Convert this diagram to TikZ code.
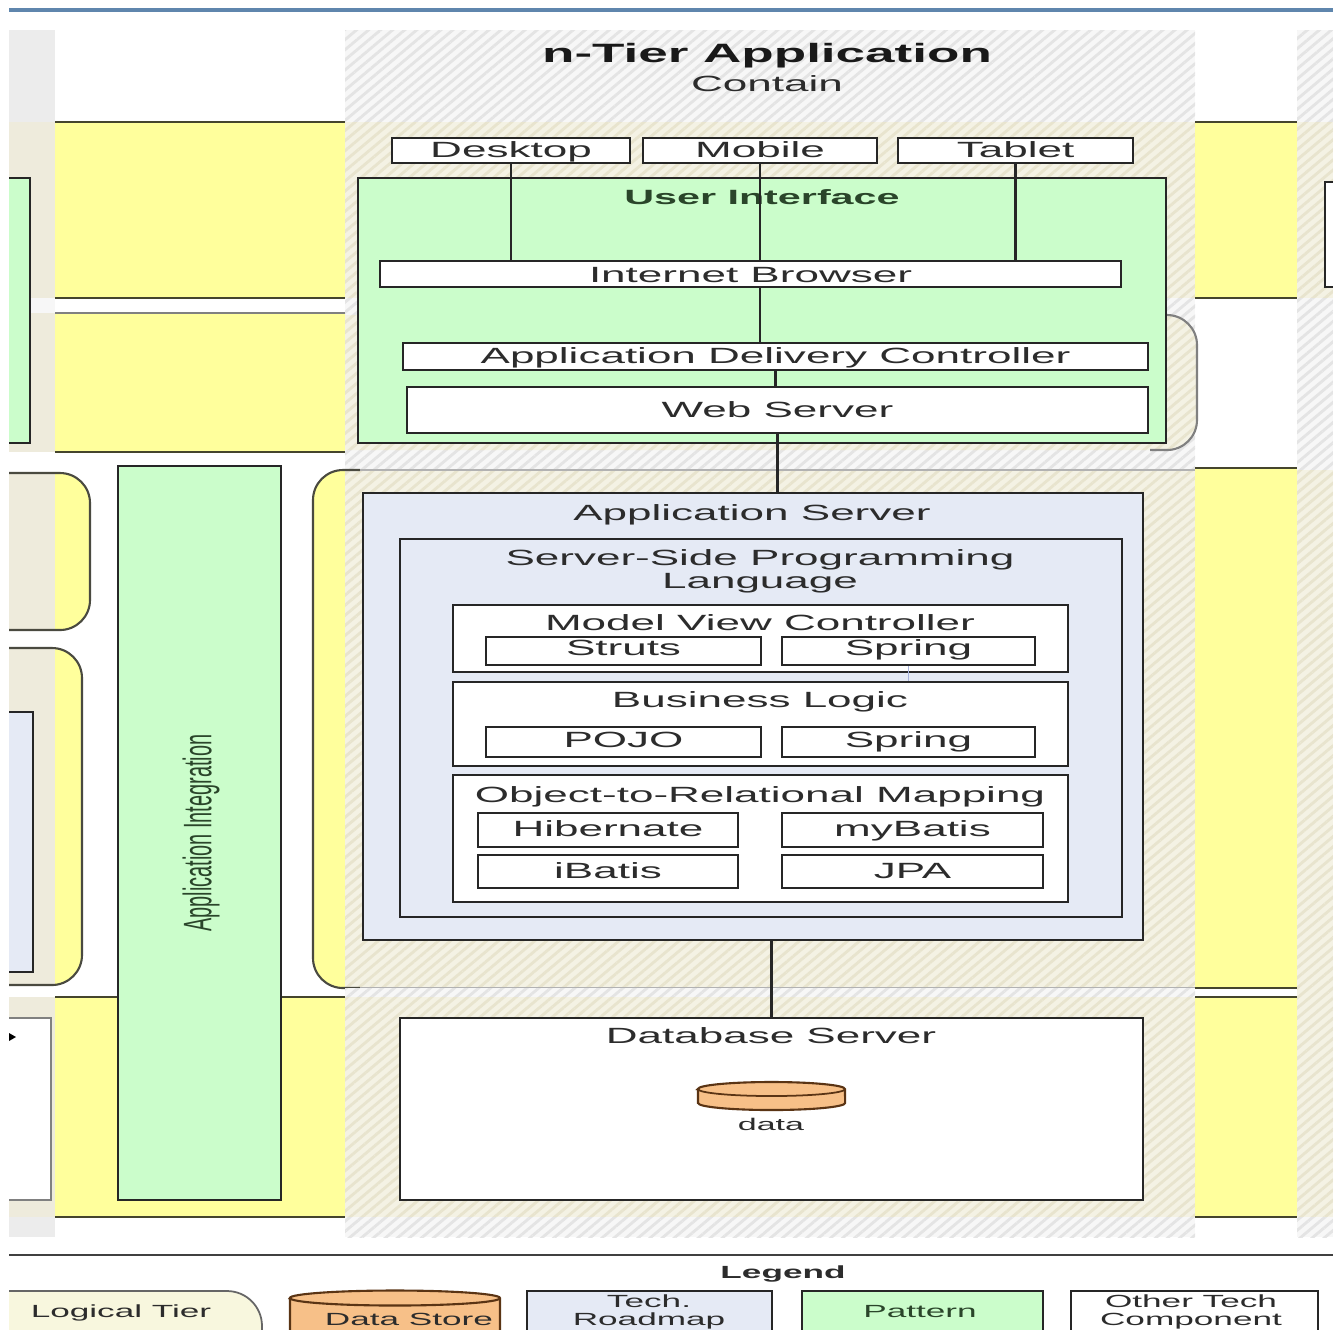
\documentclass[tikz,border=0pt]{standalone}
\usepackage{fontspec}
\setmainfont{Liberation Sans}[FakeStretch=2.0]
\newfontfamily\plainsans{Liberation Sans}
\usetikzlibrary{fit,patterns.meta}
\definecolor{lineC}{HTML}{262626}
\definecolor{txt}{HTML}{2C2C2C}
\definecolor{gtxt}{HTML}{2A452A}
\definecolor{yel}{HTML}{FFFF9C}
\definecolor{yline}{HTML}{45452D}
\definecolor{grn}{HTML}{CBFDCB}
\definecolor{blueg}{HTML}{E5EAF5}
\definecolor{orng}{HTML}{F7C088}
\definecolor{brn}{HTML}{5A3414}
\definecolor{beigeP}{HTML}{EEEBDC}
\definecolor{beigeB}{HTML}{F4F2E4}
\definecolor{beigeS}{HTML}{E8E4CE}
\definecolor{greyB}{HTML}{F7F7F7}
\definecolor{greyS}{HTML}{E4E4E4}
\definecolor{lgrey}{HTML}{ECECEC}
\definecolor{topblue}{HTML}{5F86AD}
\definecolor{tierline}{HTML}{4A4A40}
\definecolor{ltfill}{HTML}{F8F7DE}
\definecolor{faintc}{HTML}{A8B4DC}
\newcommand\bodyfont{\fontsize{6.26pt}{7.5pt}\selectfont}
\newcommand\legfont{\fontsize{5pt}{6pt}\selectfont}
\begin{document}
\begin{tikzpicture}[x=0.01cm,y=-0.01cm,
  hb/.style={fill=beigeB, postaction={pattern={Lines[angle=40,distance=2.2pt,line width=0.8pt]}, pattern color=beigeS}},
  hg/.style={fill=greyB, postaction={pattern={Lines[angle=40,distance=2.2pt,line width=0.8pt]}, pattern color=greyS}},
  box/.style={draw=lineC, line width=0.75pt, fill=white, inner sep=0pt},
  gbox/.style={box, fill=grn},
  tbox/.style={box, fill=blueg},
  lbl/.style={inner sep=0pt, font=\bodyfont, text=txt, anchor=base},
  leg/.style={inner sep=0pt, font=\legfont, text=txt, anchor=base},
  conn/.style={draw=lineC, line width=0.75pt},
  yl/.style={draw=yline, line width=0.6pt},
  tier/.style={draw=tierline, line width=0.6pt, rounded corners=0.3cm},
]
\useasboundingbox (0,0) rectangle (1333,1329);
\begin{scope}
\clip (9,0) rectangle (1333,1329);
% top rule
\draw[topblue, line width=1pt] (9,10) -- (1333,10);
% leftmost column
\fill[lgrey] (9,30) rectangle (55,122);
\fill[beigeP] (9,122) rectangle (55,298);
\fill[greyB] (9,298) rectangle (55,313);
\fill[beigeP] (9,313) rectangle (55,452);
\fill[beigeP] (9,997) rectangle (55,1217);
\fill[lgrey] (9,1217) rectangle (55,1237);
% central column backgrounds
\path[hg] (345,30) rectangle (1195,122);
\path[hb] (345,122) rectangle (1195,298);
\path[hg] (345,298) rectangle (1195,470);
\path[hb, rounded corners=0.3cm] (300,315) rectangle (1197,450);
\draw[tier, draw=gray] (1150,315) -- (1197,315) -- (1197,450) -- (1150,450);
\path[hb, rounded corners=0.3cm] (313,470) rectangle (1290,988);
\begin{scope}
\clip[rounded corners=0.3cm] (313,470) rectangle (1290,988);
\fill[yel] (300,460) rectangle (345,1000);
\end{scope}
\draw[tier] (360,470) -- (313,470) -- (313,988) -- (360,988);
\draw[draw=gray!60, line width=0.4pt] (360,470) -- (1195,470) (360,988) -- (1195,988);
\path[hg] (345,988.3) rectangle (1195,997);
\path[hb] (345,997) rectangle (1195,1217);
\path[hg] (345,1217) rectangle (1195,1237);
% left yellow column
\fill[yel] (55,122) rectangle (345,298);
\fill[yel] (55,313) rectangle (345,452);
\fill[yel] (55,997) rectangle (345,1217);
\draw[yl] (55,122) -- (345,122) (55,298) -- (345,298);
\draw[yl, draw=gray] (55,313) -- (345,313);
\draw[yl] (55,452) -- (345,452);
\draw[yl] (55,997) -- (345,997) (55,1217) -- (345,1217);
% right yellow column
\fill[yel] (1195,122) rectangle (1297,298);
\fill[yel] (1195,468) rectangle (1297,988);
\fill[yel] (1195,997) rectangle (1297,1217);
\draw[yl] (1195,122) -- (1297,122) (1195,298) -- (1297,298);
\draw[yl] (1195,468) -- (1297,468) (1195,988) -- (1297,988);
\draw[yl] (1195,997) -- (1297,997) (1195,1217) -- (1297,1217);
% far right column
\path[hg] (1297,30) rectangle (1333,122);
\path[hb] (1297,122) rectangle (1333,298);
\path[hg] (1297,298) rectangle (1333,470);
\path[hb] (1297,470) rectangle (1333,1217);
\path[hg] (1297,1217) rectangle (1333,1237);
\node[box, fit={(1325,182) (1400,287)}] (rbox) {};
% leftmost shapes
\node[gbox, fit={(-20,178) (30,443)}] (lgreen) {};
\fill[beigeP, rounded corners=0.3cm] (-40,473) rectangle (90,630);
\begin{scope}
\clip[rounded corners=0.3cm] (-40,473) rectangle (90,630);
\fill[yel] (55,460) rectangle (100,640);
\end{scope}
\draw[tier] (0,473) -- (90,473) -- (90,630) -- (0,630);
\fill[beigeP, rounded corners=0.3cm] (-40,648) rectangle (82,985);
\begin{scope}
\clip[rounded corners=0.3cm] (-40,648) rectangle (82,985);
\fill[yel] (55,640) rectangle (100,990);
\end{scope}
\draw[tier] (0,648) -- (82,648) -- (82,985) -- (0,985);
\node[tbox, fit={(-20,712) (33,972)}] (lblue) {};
\node[box, draw=gray, fit={(-20,1018) (51,1200)}] (lwhite) {};
\fill[black] (9,1033) -- (16,1037) -- (9,1041) -- cycle;
% application integration
\node[gbox, fit={(118,466) (281,1200)}] (appint) {};
\node[rotate=90, inner sep=0pt, text=gtxt] (appintt) at (201,833) {\plainsans\fontsize{5.66pt}{6pt}\selectfont\scalebox{1}[2]{Application Integration}};
% header
\node[lbl, font=\bfseries\fontsize{7.54pt}{9pt}\selectfont, text=black!90] (title) at (767,62) {n-Tier Application};
\node[lbl] (contain) at (767,91) {Contain};
% user interface tier
\node[box, fit={(392,138) (630,163)}] (desk) {};
\node[lbl] (deskt) at (desk.center |- 0,157) {Desktop};
\node[box, fit={(643,138) (877,163)}] (mob) {};
\node[lbl] (mobt) at (mob.center |- 0,157) {Mobile};
\node[box, fit={(898,138) (1133,163)}] (tab) {};
\node[lbl] (tabt) at (tab.center |- 0,157) {Tablet};
\node[gbox, fit={(358,178) (1166,443)}] (ui) {};
\node[lbl, font=\bfseries\fontsize{5.87pt}{7pt}\selectfont, text=gtxt] (uit) at (762,204) {User Interface};
\node[box, fit={(380,261) (1121,287)}] (ib) {};
\node[lbl] (ibt) at (ib.center |- 0,282) {Internet Browser};
\node[box, fit={(403,343) (1148,370)}] (adc) {};
\node[lbl] (adct) at (adc.center |- 0,363) {Application Delivery Controller};
\node[box, fit={(407,387) (1148,433)}] (ws) {};
\node[lbl] (wst) at (ws.center |- 0,417) {Web Server};
% application server
\node[tbox, fit={(363,493) (1143,940)}] (as) {};
\node[lbl] (ast) at (752,520) {Application Server};
\node[tbox, fit={(400,539) (1122,917)}] (sspl) {};
\node[lbl] (ssplta) at (760,565) {Server-Side Programming};
\node[lbl] (sspltb) at (760,588) {Language};
\node[box, fit={(453,605) (1068,672)}] (mvc) {};
\node[lbl] (mvct) at (760,630) {Model View Controller};
\node[box, fit={(486,637) (761,665)}] (struts) {};
\node[lbl] (strutst) at (struts.center |- 0,655) {Struts};
\node[box, fit={(782,637) (1035,665)}] (sprA) {};
\node[lbl] (sprAt) at (sprA.center |- 0,655) {Spring};
\node[box, fit={(453,682) (1068,766)}] (bl) {};
\node[lbl] (blt) at (760,707) {Business Logic};
\node[box, fit={(486,727) (761,757)}] (pojo) {};
\node[lbl] (pojot) at (pojo.center |- 0,747) {POJO};
\node[box, fit={(782,727) (1035,757)}] (sprB) {};
\node[lbl] (sprBt) at (sprB.center |- 0,747) {Spring};
\node[box, fit={(453,775) (1068,902)}] (orm) {};
\node[lbl] (ormt) at (760,802) {Object-to-Relational Mapping};
\node[box, fit={(478,813) (738,847)}] (hib) {};
\node[lbl] (hibt) at (hib.center |- 0,836) {Hibernate};
\node[box, fit={(782,813) (1043,847)}] (myb) {};
\node[lbl] (mybt) at (myb.center |- 0,836) {myBatis};
\node[box, fit={(478,855) (738,888)}] (ibat) {};
\node[lbl] (ibatt) at (ibat.center |- 0,878) {iBatis};
\node[box, fit={(782,855) (1043,888)}] (jpa) {};
\node[lbl] (jpat) at (jpa.center |- 0,878) {JPA};
% database server
\node[box, fit={(400,1018) (1143,1200)}] (db) {};
\node[lbl] (dbt) at (771,1043) {Database Server};
\filldraw[fill=orng, draw=brn, line width=0.6pt] (698,1089) -- (698,1103) arc[start angle=180,end angle=360,x radius=0.735cm,y radius=0.07cm] -- (845,1089) arc[start angle=0,end angle=180,x radius=0.735cm,y radius=0.07cm] -- cycle;
\draw[brn, line width=0.5pt] (698,1089) arc[start angle=180,end angle=360,x radius=0.735cm,y radius=0.07cm];
\node[lbl, font=\fontsize{4.83pt}{6pt}\selectfont] (datat) at (771,1130) {data};
% connectors
\draw[conn] (desk.south) -- (desk.south |- ib.north);
\draw[conn] (mob.south) -- (mob.south |- ib.north);
\draw[conn] (tab.south) -- (tab.south |- ib.north);
\draw[conn] (ib.south -| mob.south) -- (adc.north -| mob.south);
\draw[conn] (adc.south) -- (adc.south |- ws.north);
\draw[conn] (ws.south) -- (ws.south |- as.north);
\draw[conn] (db.north) -- (db.north |- as.south);
\draw[faintc, line width=0.5pt] (sprA.south) -- (sprA.south |- bl.north);
% legend
\draw[black!75, line width=0.6pt] (9,1255) -- (1333,1255);
\node[leg, font=\bfseries\legfont] (legt) at (783,1278) {Legend};
\filldraw[fill=ltfill, draw=black!60, line width=0.5pt, rounded corners=0.35cm] (-50,1291) rectangle (262,1380);
\node[leg] (legA) at (121,1317) {Logical Tier};
\filldraw[fill=orng, draw=brn, line width=0.6pt] (290,1298) -- (290,1360) -- (500,1360) -- (500,1298) arc[start angle=0,end angle=180,x radius=1.05cm,y radius=0.075cm] -- cycle;
\draw[brn, line width=0.6pt] (290,1298) arc[start angle=180,end angle=360,x radius=1.05cm,y radius=0.075cm];
\node[leg] (legB) at (409,1325) {Data Store};
\node[tbox, fit={(527,1291) (772,1360)}] (legCbox) {};
\node[leg] (legCa) at (649,1307) {Tech.};
\node[leg] (legCb) at (649,1325) {Roadmap};
\node[gbox, fit={(802,1291) (1043,1360)}] (legDbox) {};
\node[leg, text=gtxt] (legD) at (920,1317) {Pattern};
\node[box, fit={(1071,1291) (1318,1360)}] (legEbox) {};
\node[leg] (legEa) at (1191,1307) {Other Tech};
\node[leg] (legEb) at (1191,1325) {Component};
\end{scope}
\end{tikzpicture}
\end{document}
